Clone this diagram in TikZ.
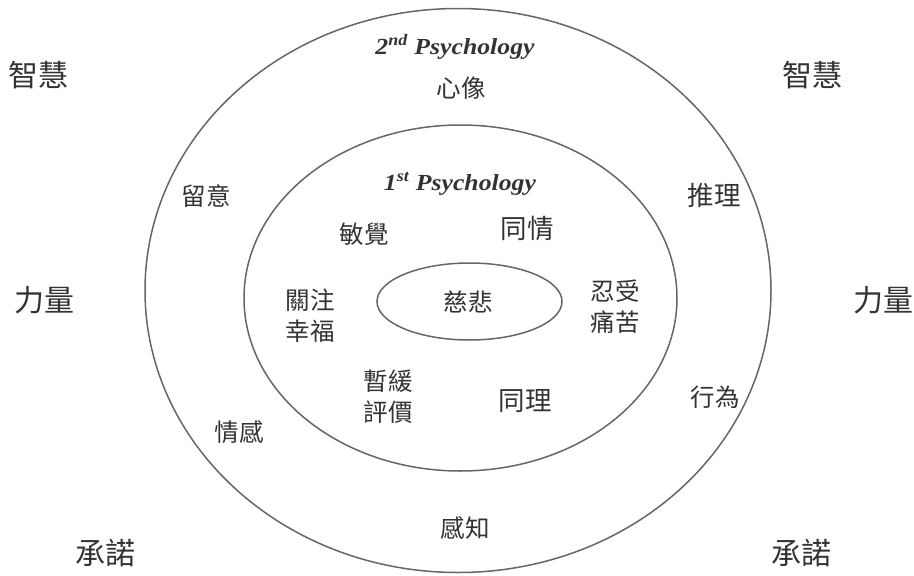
\documentclass[tikz,border=0pt]{standalone}
\usepackage{fontspec}
\setmainfont{Liberation Serif}
\newfontfamily\cjk{Noto Sans CJK TC}
\definecolor{linegray}{HTML}{666666}
\definecolor{txt}{HTML}{333333}
\begin{document}
\begin{tikzpicture}[x=1pt,y=-1pt,
  ring/.style={draw=linegray,line width=1.5pt},
  lbl/.style={text=txt,font=\cjk\fontsize{24.5}{31}\selectfont,align=center,inner sep=0pt},
  biglbl/.style={lbl,font=\cjk\fontsize{26.5}{31}\selectfont},
  corner/.style={lbl,font=\cjk\fontsize{30}{34}\selectfont},
  psy/.style={text=txt,font=\bfseries\itshape\fontsize{23}{26}\selectfont,inner sep=0pt,xscale=1.12}]
\useasboundingbox (0,0) rectangle (914,576);
\fill[white] (0,0) rectangle (914,576);
% rings
\draw[ring] (458,290.5) ellipse [x radius=313pt, y radius=282pt];
\draw[ring] (460.5,298) ellipse [x radius=216.5pt, y radius=173pt];
\draw[ring] (469.5,301.5) ellipse [x radius=92.5pt, y radius=38.5pt];
% headings
\node[psy] (psy2) at (455,47) {2\textsuperscript{nd} Psychology};
\node[psy] (psy1) at (460,184) {1\textsuperscript{st} Psychology};
% outer ring labels
\node[lbl] (xinxiang) at (461,88) {心像};
\node[lbl] (liuyi) at (206,196) {留意};
\node[biglbl] (tuili) at (714,195) {推理};
\node[lbl] (xingwei) at (715,397) {行為};
\node[lbl] (qinggan) at (239,432) {情感};
\node[lbl] (ganzhi) at (465,528) {感知};
% inner ring labels
\node[lbl] (minjue) at (364,234) {敏覺};
\node[biglbl] (tongqing) at (527,229) {同情};
\node[lbl] (guanzhu) at (310,316) {關注\\幸福};
\node[lbl] (rensou) at (615,307) {忍受\\痛苦};
\node[lbl] (zanhuan) at (388,397) {暫緩\\評價};
\node[biglbl] (tongli) at (525,401) {同理};
\node[lbl] (cibei) at (468,302) {慈悲};
% corners
\node[corner] (zhl) at (39,75) {智慧};
\node[corner] (zhr) at (812,75) {智慧};
\node[corner] (lll) at (45,300) {力量};
\node[corner] (llr) at (883,300) {力量};
\node[corner] (cnl) at (105,553) {承諾};
\node[corner] (cnr) at (801,553) {承諾};
\end{tikzpicture}
\end{document}
